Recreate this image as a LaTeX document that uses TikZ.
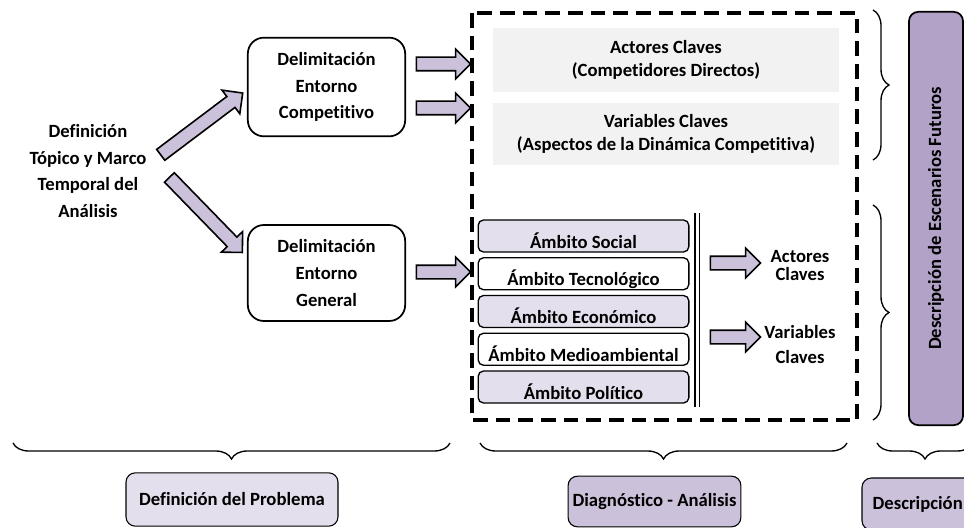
\documentclass[tikz,border=0pt]{standalone}
\usepackage{fontspec}
\setmainfont{Carlito}[Ligatures=NoCommon]
\usetikzlibrary{shapes.arrows,decorations.pathreplacing}

\definecolor{lila}{HTML}{CCC1DA}
\definecolor{lilaclaro}{HTML}{E4DFEC}
\definecolor{lilaosc}{HTML}{B3A2C7}
\definecolor{gris}{HTML}{F2F2F2}

\begin{document}
\begin{tikzpicture}[x=0.75pt,y=-0.75pt,
    font=\fontsize{14}{20}\selectfont\bfseries,
    caja/.style={draw, line width=1.3pt, rounded corners=12pt, align=center, minimum width=118pt, minimum height=74pt},
    ambito/.style={draw, line width=1pt, rounded corners=4pt, minimum width=158pt, inner sep=0pt, text height=21pt, text depth=3pt},
    flecha/.style={single arrow, draw, line width=1.2pt, fill=lila, inner sep=0pt, text height=9pt, text depth=0pt, single arrow head extend=6pt, minimum width=0pt},
    llave/.style={decorate, decoration={brace, amplitude=12pt}, line width=1pt},
    etapa/.style={draw, line width=0.8pt, rounded corners=7pt}]
\useasboundingbox (0,0) rectangle (964,528);

% definicion del problema
\node[align=center] (topico) at (88,171) {Definición\\Tópico y Marco\\Temporal del\\Análisis};
\node[caja] (comp) at (326.5,87) {Delimitación\\Entorno\\Competitivo};
\node[caja, minimum height=72pt] (gen) at (326.5,273) {Delimitación\\Entorno\\General};
\node[flecha, rotate=37, minimum height=77pt] (f1) at (199,126) {};
\node[flecha, rotate=-45.8, minimum height=78.5pt] (f2) at (203.5,212.5) {};
\foreach \y [count=\i] in {64,108,272}
    \node[flecha, minimum height=40.5pt] (g\i) at (440,\y) {};

% diagnostico
\draw[line width=2.5pt, dash pattern=on 11pt off 6pt] (472,13) rectangle (857,420);
\node[fill=gris, minimum width=259.5pt, minimum height=48pt, align=center, font=\fontsize{14}{17}\selectfont\bfseries] (actc) at (666,60) {Actores Claves\\(Competidores Directos)};
\node[fill=gris, minimum width=259.5pt, minimum height=47pt, align=center, font=\fontsize{14}{17.5}\selectfont\bfseries] (varc) at (666,134) {Variables Claves\\(Aspectos de la Dinámica Competitiva)};
\foreach \txt/\col [count=\i from 0] in {Social/lilaclaro, Tecnológico/white, Económico/lilaclaro, Medioambiental/white, Político/lilaclaro}
    \node[ambito, fill=\col] (amb\i) at (583.5,236+37.75*\i) {Ámbito \txt};
\draw[line width=0.8pt] (695,213) -- (695,407) (699.5,213) -- (699.5,407);
\node[flecha, minimum height=37.5pt] (h1) at (732,263) {};
\node[flecha, minimum height=37.5pt] (h2) at (732,337) {};
\node[align=center, font=\fontsize{14}{13.5}\selectfont\bfseries] (actk) at (800,266) {Actores\\Claves};
\node[align=center, font=\fontsize{14}{19}\selectfont\bfseries] (vark) at (800,344.5) {Variables\\Claves};

% descripcion
\draw[llave] (873,10) -- (873,160);
\draw[llave] (873,205) -- (873,420);
\node[etapa, fill=lilaosc, line width=1.3pt, rotate=90, minimum width=310pt, minimum height=40.5pt] (esc) at (936,218.5) {Descripción de Escenarios Futuros};

% etapas
\draw[llave] (450,443) -- (13,443);
\draw[llave] (847,443) -- (480,443);
\draw[llave] (973,443) -- (877,443);
\node[etapa, fill=lilaclaro, minimum width=159pt, minimum height=40pt] (prob) at (232,499.5) {Definición del Problema};
\node[etapa, fill=lila, minimum width=128pt, minimum height=38pt] (diag) at (654.5,501.5) {Diagnóstico - Análisis};
\node[etapa, fill=lila, minimum height=39pt, text width=95pt, inner xsep=8pt, align=left] (descr) at (936,504) {Descripción};
\end{tikzpicture}
\end{document}
